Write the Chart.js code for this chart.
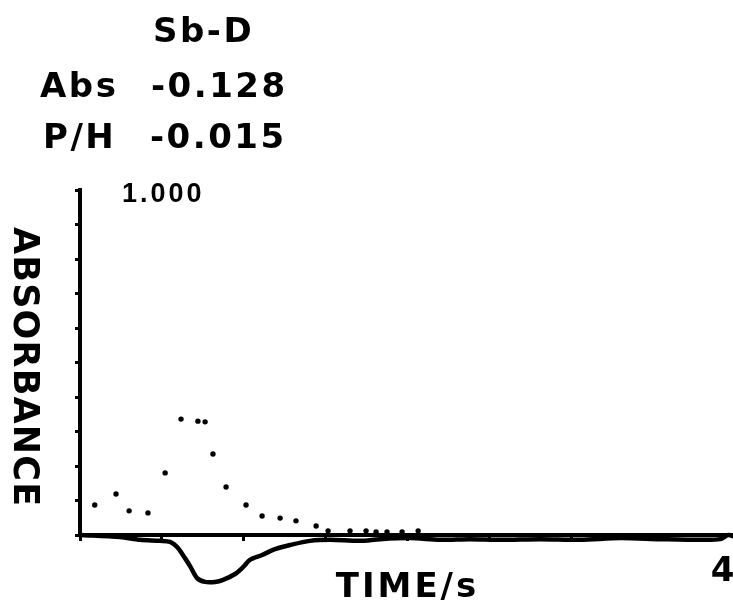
<!DOCTYPE html>
<html>
<head>
<meta charset="utf-8">
<script src="https://cdn.jsdelivr.net/npm/chart.js@4/dist/chart.umd.min.js"></script>
<style>
  html, body { margin: 0; padding: 0; background: #fff; overflow: hidden; }
  #wrap { position: relative; width: 733px; height: 603px; overflow: hidden; }
  #chart { position: absolute; left: 0; top: 0; }
  .lbl {
    position: absolute;
    font-family: "DejaVu Sans", sans-serif;
    font-weight: bold;
    font-size: 34px;
    line-height: 34px;
    letter-spacing: 2.5px;
    color: #000;
    white-space: nowrap;
  }
  #ytitle {
    position: absolute;
    left: 7px;
    top: 227px;
    writing-mode: vertical-rl;
    font-family: "DejaVu Sans", sans-serif;
    font-weight: bold;
    font-size: 35px;
    line-height: 38px;
    letter-spacing: 1.2px;
    color: #000;
  }
</style>
</head>
<body>
<div id="wrap">
  <canvas id="chart" width="760" height="603"></canvas>
  <div class="lbl" style="left:153px; top:13px;">Sb-D</div>
  <div class="lbl" style="left:40px; top:68px;">Abs</div>
  <div class="lbl" style="left:151px; top:68px;">-0.128</div>
  <div class="lbl" style="left:43px; top:119px;">P/H</div>
  <div class="lbl" style="left:150px; top:119px;">-0.015</div>
  <div id="ytitle">ABSORBANCE</div>
</div>
<script>
// atomic absorption signal (dots)
const absTime = [0.09, 0.22, 0.30, 0.415, 0.52, 0.617, 0.72, 0.764, 0.812, 0.892, 1.014, 1.112, 1.222, 1.319, 1.442, 1.515, 1.649, 1.747, 1.808, 1.875, 1.967, 2.065];
const absValues = [0.087, 0.119, 0.070, 0.064, 0.180, 0.336, 0.330, 0.328, 0.235, 0.139, 0.087, 0.055, 0.049, 0.041, 0.026, 0.012, 0.012, 0.012, 0.009, 0.009, 0.009, 0.012];

// background signal (solid line)
const bgTime = [0, 0.244, 0.367, 0.489, 0.55, 0.593, 0.641, 0.672, 0.715, 0.764, 0.825, 0.874, 0.947, 0.996, 1.038, 1.112, 1.191, 1.283, 1.405, 1.527, 1.71, 1.833, 2.016, 2.199, 2.382, 2.566, 2.81, 3.054, 3.299, 3.543, 3.787, 3.91, 3.958, 4.0];
const bgValues = [0, -0.006, -0.014, -0.017, -0.020, -0.035, -0.067, -0.090, -0.125, -0.136, -0.136, -0.130, -0.113, -0.093, -0.072, -0.058, -0.041, -0.029, -0.017, -0.014, -0.017, -0.012, -0.009, -0.014, -0.012, -0.014, -0.012, -0.014, -0.009, -0.012, -0.014, -0.012, 0.0, -0.006];

const yTicks = { 1: '1.000' };
const xTicks = { 4: '4' };

function toPoints(xs, ys) {
    return xs.map((x, i) => ({ x: x, y: ys[i] }));
}

const fontFamily = "'DejaVu Sans', sans-serif";

// spacing between letters like the plotter font
const spacingPlugin = {
    id: 'spacing',
    beforeUpdate(chart) { chart.ctx.letterSpacing = '3px'; },
    beforeDraw(chart) { chart.ctx.letterSpacing = '3px'; }
};

const ctx = document.getElementById('chart').getContext('2d');

new Chart(ctx, {
    type: 'scatter',
    data: {
        datasets: [{
            label: 'Abs',
            data: toPoints(absTime, absValues),
            showLine: false,
            pointRadius: 2.7,
            pointBackgroundColor: '#000',
            pointBorderWidth: 0,
            clip: false
        }, {
            label: 'BG',
            data: toPoints(bgTime, bgValues),
            showLine: true,
            borderColor: '#000',
            borderWidth: 4.5,
            tension: 0.3,
            pointRadius: 0,
            clip: false
        }]
    },
    options: {
        responsive: false,
        animation: false,
        devicePixelRatio: 1,
        layout: { padding: { left: 0, top: 190, right: 25, bottom: 0 } },
        plugins: {
            legend: { display: false },
            tooltip: { enabled: false }
        },
        scales: {
            x: {
                type: 'linear',
                min: 0,
                max: 4,
                grid: { drawOnChartArea: false, color: '#000', lineWidth: 3, tickLength: 6 },
                border: { color: '#000', width: 4 },
                ticks: {
                    stepSize: 0.5,
                    autoSkip: false,
                    maxRotation: 0,
                    padding: 11,
                    labelOffset: -11,
                    color: '#000',
                    font: { family: fontFamily, weight: 'bold', size: 34 },
                    callback: v => xTicks[v] || ''
                },
                title: {
                    display: true,
                    text: 'TIME/s',
                    color: '#000',
                    padding: { top: 0, bottom: -2 },
                    font: { family: fontFamily, weight: 'bold', size: 34, lineHeight: 1 }
                },
                afterFit: s => { s.height = 68; }
            },
            y: {
                min: 0,
                max: 1,
                grid: { drawOnChartArea: false, color: '#000', lineWidth: 3, tickLength: 5 },
                border: { color: '#000', width: 4 },
                ticks: {
                    stepSize: 0.1,
                    autoSkip: false,
                    maxTicksLimit: 20,
                    mirror: true,
                    padding: 42,
                    labelOffset: 5,
                    color: '#000',
                    font: { family: "'Liberation Sans', sans-serif", weight: 'bold', size: 27, lineHeight: 1 },
                    callback: v => yTicks[Math.round(v * 10) / 10] || ''
                },
                afterFit: s => { s.width = 80; }
            }
        }
    },
    plugins: [spacingPlugin]
});
</script>
</body>
</html>
